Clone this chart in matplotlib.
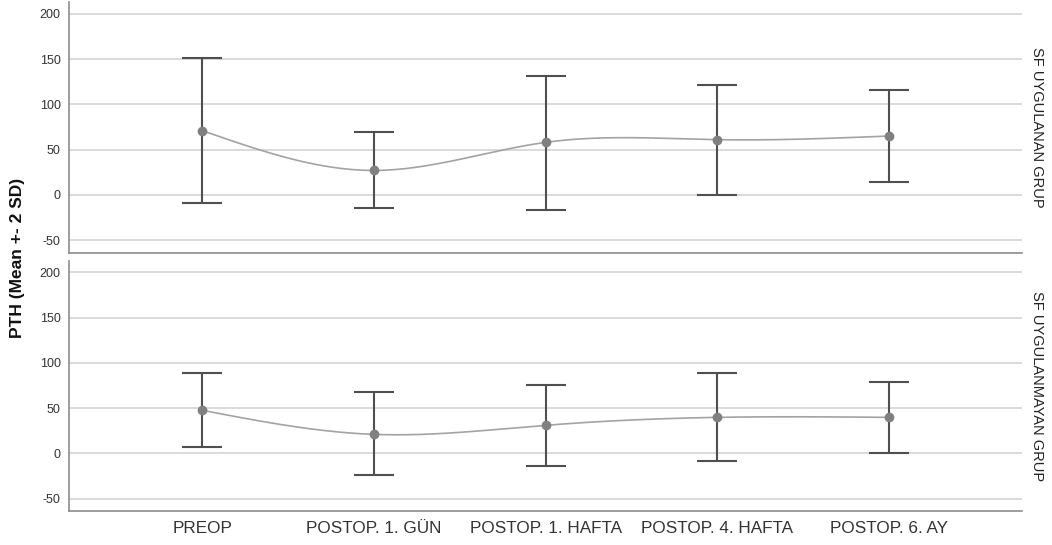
import numpy as np
import matplotlib
matplotlib.use("Agg")
import matplotlib.pyplot as plt

categories = ["PREOP", "POSTOP. 1. GÜN", "POSTOP. 1. HAFTA", "POSTOP. 4. HAFTA", "POSTOP. 6. AY"]
groups = ["SF UYGULANAN GRUP", "SF UYGULANMAYAN GRUP"]
mean_uygulanan = [71, 27, 58, 61, 65]
upper_uygulanan = [151.5, 69.4, 131.6, 121.7, 116]
lower_uygulanan = [-8.8, -14.7, -16.2, 0.3, 14.4]
mean_uygulanmayan = [47.6, 21, 31, 39.8, 39.8]
upper_uygulanmayan = [88.5, 67.5, 76, 88.5, 78.9]
lower_uygulanmayan = [7.4, -24, -14, -8.5, 0]
yticks = [-50, 0, 50, 100, 150, 200]

plt.rcParams['font.family'] = ['Liberation Sans', 'DejaVu Sans']
plt.rcParams['axes.unicode_minus'] = False


def natural_spline(x, y, n=300):
    x = np.asarray(x, float); y = np.asarray(y, float)
    k = len(x)
    h = np.diff(x)
    A = np.zeros((k, k)); b = np.zeros(k)
    A[0, 0] = 1; A[-1, -1] = 1
    for i in range(1, k - 1):
        A[i, i - 1] = h[i - 1]; A[i, i] = 2 * (h[i - 1] + h[i]); A[i, i + 1] = h[i]
        b[i] = 6 * ((y[i + 1] - y[i]) / h[i] - (y[i] - y[i - 1]) / h[i - 1])
    M = np.linalg.solve(A, b)
    xs = np.linspace(x[0], x[-1], n)
    ys = np.empty_like(xs)
    for j, t in enumerate(xs):
        i = min(np.searchsorted(x, t, side='right') - 1, k - 2)
        a = x[i + 1] - t; c = t - x[i]
        ys[j] = (M[i] * a**3 + M[i + 1] * c**3) / (6 * h[i]) + \
                (y[i] / h[i] - M[i] * h[i] / 6) * a + (y[i + 1] / h[i] - M[i + 1] * h[i] / 6) * c
    return xs, ys


fig = plt.figure(figsize=(10.52, 5.45), dpi=100)
W, H = 1052, 545
left, right = 69 / W, 1022 / W
ax1 = fig.add_axes([left, 1 - 252.5 / H, right - left, 250.5 / H])
ax2 = fig.add_axes([left, 1 - 511 / H, right - left, 250.5 / H])

data = [(mean_uygulanan, upper_uygulanan, lower_uygulanan),
        (mean_uygulanmayan, upper_uygulanmayan, lower_uygulanmayan)]
x = np.arange(len(categories))
for ax, (m, u, l), g in zip([ax1, ax2], data, groups):
    ax.set_xlim(-0.776, len(categories) - 1 + 0.776)
    ax.set_ylim(-63.6, 213)
    ax.set_yticks(yticks)
    ax.yaxis.grid(True, color='#d4d4d4', linewidth=1.2, zorder=0)
    ax.set_axisbelow(True)
    for s in ['top', 'right']:
        ax.spines[s].set_visible(False)
    for s in ['left', 'bottom']:
        ax.spines[s].set_color('#8c8c8c')
        ax.spines[s].set_linewidth(1.2)
    ax.tick_params(axis='both', length=0, labelsize=9, colors='#333333', pad=6)
    m = np.array(m); u = np.array(u); l = np.array(l)
    xs, ys = natural_spline(x, m)
    ax.plot(xs, ys, color='#a3a3a3', linewidth=1.2, zorder=2)
    ax.errorbar(x, m, yerr=[m - l, u - m], fmt='none', ecolor='#4f4f4f',
                elinewidth=1.5, capsize=14.4, capthick=1.5, zorder=3)
    ax.plot(x, m, 'o', color='#808080', markersize=6, zorder=4)
    ax.text(1.0085, 0.5, g, transform=ax.transAxes, rotation=-90, ha='left', va='center',
            fontsize=10.5, color='#222222')

ax1.set_xticks(x)
ax1.set_xticklabels([])
ax2.set_xticks(x)
ax2.set_xticklabels(categories, fontsize=12.3, color='#333333')
ax2.tick_params(axis='x', pad=7)

fig.text(18 / W, 1 - 258 / H, "PTH (Mean +- 2 SD)", rotation=90, ha='center', va='center',
         fontsize=12.5, fontweight='bold', color='#111111')

fig.savefig("out.png", dpi=100)
